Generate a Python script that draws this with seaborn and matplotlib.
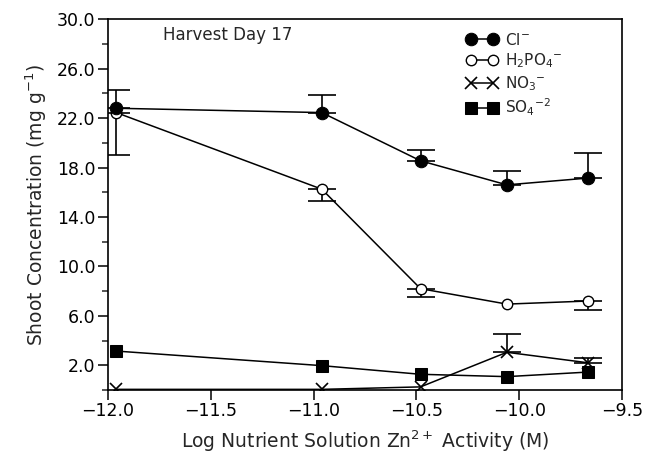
import numpy as np
import pandas as pd
import matplotlib
matplotlib.use("Agg")
import matplotlib.pyplot as plt
import seaborn as sns
from matplotlib.ticker import FixedLocator, FuncFormatter

sns.set_style("ticks")
plt.rcParams['font.family'] = ['DejaVu Sans']

# ---- data ----
zn_activity = [-11.96, -10.96, -10.48, -10.06, -9.665]
cl = [22.8, 22.45, 18.55, 16.6, 17.15]
cl_err_up = [1.45, 1.45, 0.85, 1.1, 2.05]
h2po4 = [22.45, 16.25, 8.2, 6.95, 7.2]
h2po4_err_down = [3.45, 0.95, 0.7, 0.0, 0.7]
no3 = [0.05, 0.05, 0.25, 3.05, 2.2]
no3_err_up = [0.0, 0.0, 0.0, 1.45, 0.35]
so4 = [3.15, 1.97, 1.27, 1.08, 1.45]

series_labels = [r'Cl$^{-}$', r'H$_2$PO$_4$$^{-}$', r'NO$_3$$^{-}$', r'SO$_4$$^{-2}$']
x_ticks = [-12.0, -11.5, -11.0, -10.5, -10.0, -9.5]
y_ticks = [2.0, 6.0, 10.0, 14.0, 18.0, 22.0, 26.0, 30.0]
y_minor = [0, 4, 8, 12, 16, 20, 24, 28]

fig = plt.figure(figsize=(6.57, 4.55), dpi=100)
ax = fig.add_axes([0.1644, 0.1429, 0.9467 - 0.1644, 0.9576 - 0.1429])

styles = [
    dict(marker='o', markersize=9, markerfacecolor='black', markeredgecolor='black'),
    dict(marker='o', markersize=7.5, markerfacecolor='white', markeredgecolor='black', markeredgewidth=1.0),
    dict(marker='x', markersize=8, markeredgecolor='black', markeredgewidth=1.2),
    dict(marker='s', markersize=8, markerfacecolor='black', markeredgecolor='black'),
]
values = [cl, h2po4, no3, so4]
zorders = [4, 3, 3, 3]

# error bars (one-sided), only where an error is shown, drawn beneath markers
eb = dict(fmt='none', ecolor='black', elinewidth=1.2, capsize=10, capthick=1.2, zorder=2)


def draw_err(vals, err, up):
    idx = [i for i, e in enumerate(err) if e > 0]
    xs = [zn_activity[i] for i in idx]
    ys = [vals[i] for i in idx]
    es = [err[i] for i in idx]
    z = [0.0] * len(idx)
    ax.errorbar(xs, ys, yerr=[z, es] if up else [es, z], **eb)


draw_err(cl, cl_err_up, True)
draw_err(h2po4, h2po4_err_down, False)
draw_err(no3, no3_err_up, True)

for vals, lab, st, z in zip(values, series_labels, styles, zorders):
    df = pd.DataFrame({'x': zn_activity, 'y': vals})
    sns.lineplot(data=df, x='x', y='y', ax=ax, color='black', linewidth=1.1,
                 label=lab, zorder=z, **st)

fmt = FuncFormatter(lambda v, p: ('%.1f' % v).replace('-', '\u2212'))
ax.set_xlim(-12.0, -9.5)
ax.set_ylim(0.0, 30.0)
ax.xaxis.set_major_locator(FixedLocator(x_ticks))
ax.xaxis.set_major_formatter(fmt)
ax.yaxis.set_major_locator(FixedLocator(y_ticks))
ax.yaxis.set_minor_locator(FixedLocator(y_minor))
ax.yaxis.set_major_formatter(fmt)
ax.tick_params(axis='both', which='major', direction='out', length=7, width=1.1,
               labelsize=12.5, colors='black', pad=2)
ax.tick_params(axis='y', which='minor', direction='out', length=4, width=1.1)

for sp in ax.spines.values():
    sp.set_linewidth(1.2)
    sp.set_color('black')
    sp.set_visible(True)

ax.set_xlabel(r'Log Nutrient Solution Zn$^{2+}$ Activity (M)', fontsize=13.5, labelpad=6)
ax.set_ylabel(r'Shoot Concentration (mg g$^{-1}$)', fontsize=13.5, labelpad=6)

ax.text(0.107, 0.958, 'Harvest Day 17', transform=ax.transAxes, fontsize=12,
        va='center', ha='left')

leg = ax.legend(loc='upper right', bbox_to_anchor=(0.905, 0.995), frameon=False,
                fontsize=11, numpoints=2, handlelength=2.0, handletextpad=0.5,
                labelspacing=0.25, borderpad=0.2)

fig.savefig('out.png', dpi=100)
